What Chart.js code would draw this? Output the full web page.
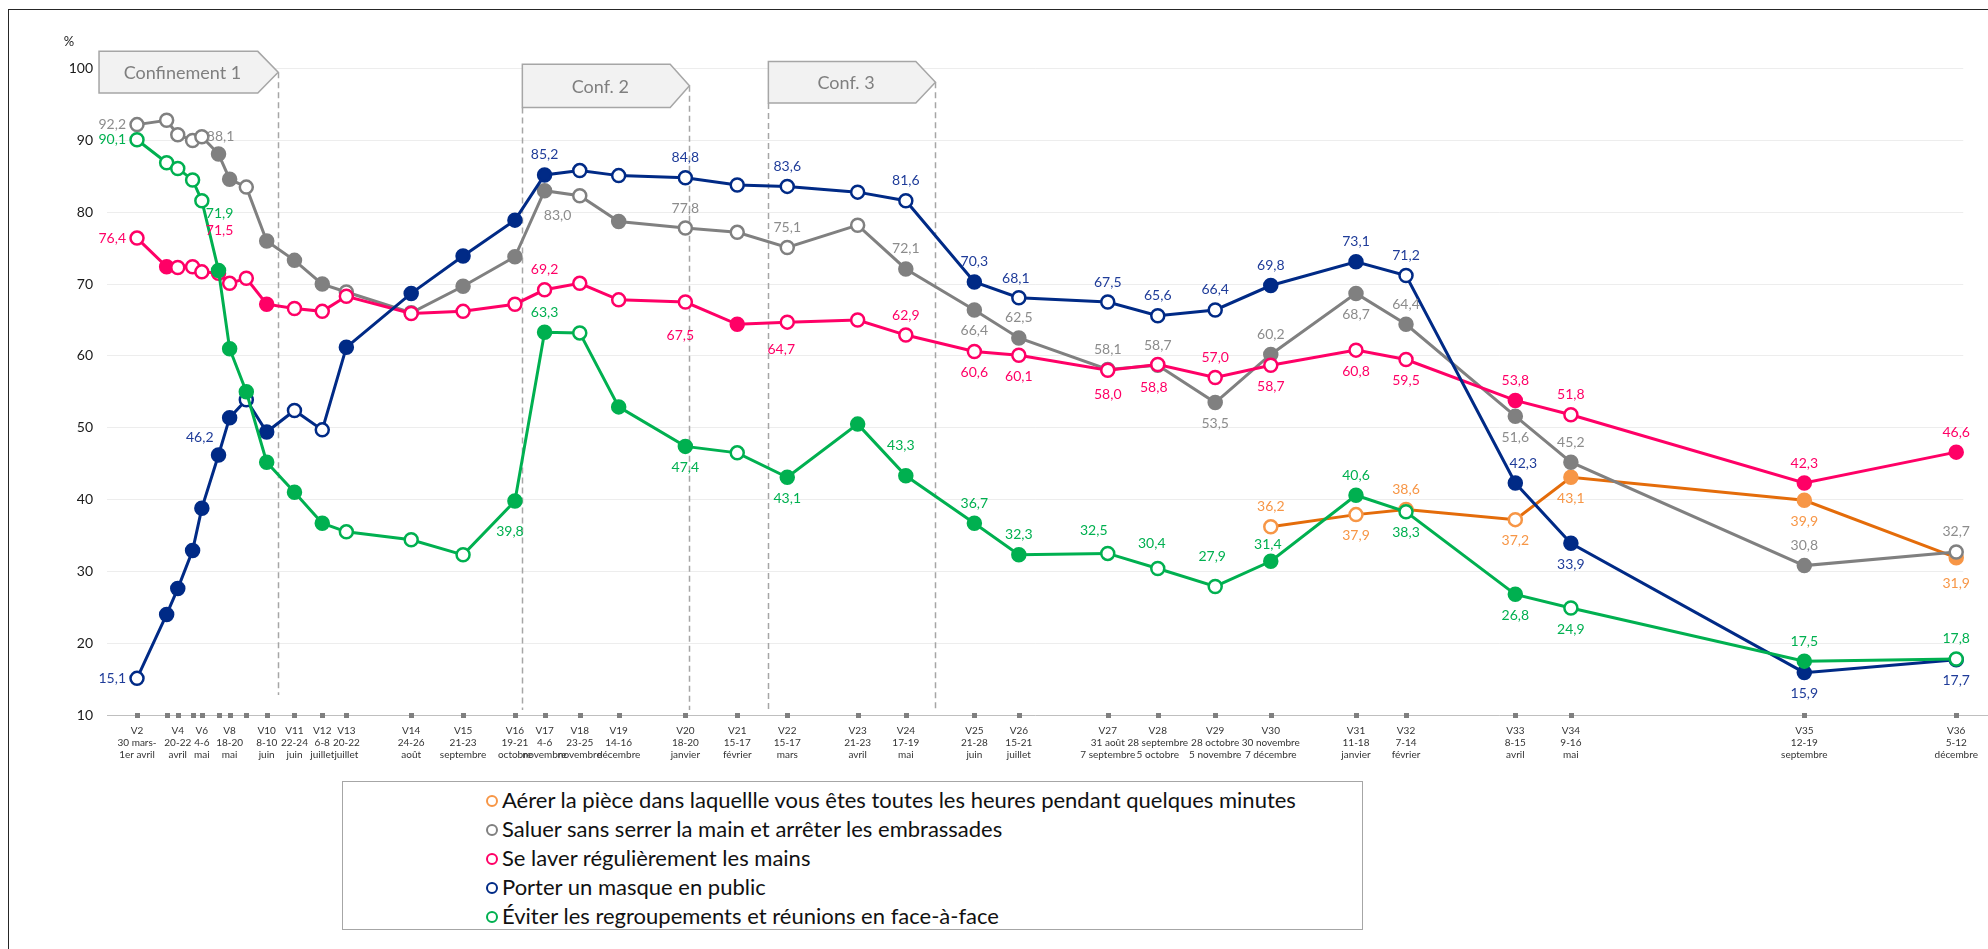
<!DOCTYPE html>
<html>
<head>
<meta charset="utf-8">
<script src="https://cdn.jsdelivr.net/npm/chart.js@4.4.1/dist/chart.umd.min.js"></script>
<style>
html,body{margin:0;padding:0;background:#fff;width:1988px;height:949px;overflow:hidden;}
#c{position:absolute;left:0;top:0;}
#frame{position:absolute;left:8px;top:9px;width:2100px;height:1100px;border:1.5px solid #262626;box-sizing:border-box;pointer-events:none;}
#legend{position:absolute;left:342px;top:781px;width:1021px;height:149px;border:1px solid #A6A6A6;box-sizing:border-box;background:#fff;font-family:Lato,'Open Sans',sans-serif;font-size:22px;color:#111;}
.row{position:absolute;left:143px;height:29px;line-height:29px;white-space:nowrap;}
.mk{display:inline-block;width:8px;height:8px;border:2.5px solid;border-radius:50%;background:#fff;vertical-align:middle;margin-right:4px;position:relative;top:-1px;}
</style>
</head>
<body>
<canvas id="c" width="1988" height="949"></canvas>
<div id="frame"></div>
<div id="legend"></div>
<script>
// ---- categories (survey waves) ----
const waves = ['V2','V3','V4','V5','V6','V7','V8','V9','V10','V11','V12','V13','V14','V15','V16','V17','V18','V19','V20','V21','V22','V23','V24','V25','V26','V27','V28','V29','V30','V31','V32','V33','V34','V35','V36'];
const waveDates = ['2020-03-31','2020-04-16','2020-04-22','2020-04-30','2020-05-05','2020-05-14','2020-05-20','2020-05-29','2020-06-09','2020-06-24','2020-07-09','2020-07-22','2020-08-26','2020-09-23','2020-10-21','2020-11-06','2020-11-25','2020-12-16','2021-01-21','2021-02-18','2021-03-17','2021-04-24','2021-05-20','2021-06-26','2021-07-20','2021-09-06','2021-10-03','2021-11-03','2021-12-03','2022-01-18','2022-02-14','2022-04-14','2022-05-14','2022-09-17','2022-12-08'];
// ---- tick labels ----
const tickLabels = [
 ['V2','30 mars-','1er avril'], '', ['V4','20-22','avril'], '', ['V6','4-6','mai'], '', ['V8','18-20','mai'], '',
 ['V10','8-10','juin'], ['V11','22-24','juin'], ['V12','6-8','juillet'], ['V13','20-22','juillet'],
 ['V14','24-26','août'], ['V15','21-23','septembre'], ['V16','19-21','octobre'], ['V17','4-6','novembre'],
 ['V18','23-25','novembre'], ['V19','14-16','décembre'], ['V20','18-20','janvier'], ['V21','15-17','février'],
 ['V22','15-17','mars'], ['V23','21-23','avril'], ['V24','17-19','mai'], ['V25','21-28','juin'], ['V26','15-21','juillet'],
 ['V27','31 août','7 septembre'], ['V28','28 septembre','5 octobre'], ['V29','28 octobre','5 novembre'], ['V30','30 novembre','7 décembre'],
 ['V31','11-18','janvier'], ['V32','7-14','février'], ['V33','8-15','avril'], ['V34','9-16','mai'], ['V35','12-19','septembre'], ['V36','5-12','décembre']
];
const yTicks = [10,20,30,40,50,60,70,80,90,100];

// ---- series values (%) ----
const aerer   = [null,null,null,null,null,null,null,null,null,null,null,null,null,null,null,null,null,null,null,null,null,null,null,null,null,null,null,null,36.2,37.9,38.6,37.2,43.1,39.9,31.9];
const saluer  = [92.2,92.8,90.8,90.0,90.5,88.1,84.6,83.5,76.0,73.3,70.0,68.9,66.0,69.7,73.8,83.0,82.3,78.7,77.8,77.2,75.1,78.2,72.1,66.4,62.5,58.1,58.7,53.5,60.2,68.7,64.4,51.6,45.2,30.8,32.7];
const laver   = [76.4,72.4,72.3,72.4,71.7,71.5,70.1,70.8,67.2,66.6,66.2,68.3,65.9,66.2,67.2,69.2,70.1,67.8,67.5,64.4,64.7,65.0,62.9,60.6,60.1,58.0,58.8,57.0,58.7,60.8,59.5,53.8,51.8,42.3,46.6];
const masque  = [15.1,24.0,27.6,32.9,38.8,46.2,51.4,53.9,49.4,52.4,49.7,61.2,68.7,73.9,78.9,85.2,85.8,85.1,84.8,83.8,83.6,82.8,81.6,70.3,68.1,67.5,65.6,66.4,69.8,73.1,71.2,42.3,33.9,15.9,17.7];
const eviter  = [90.1,86.9,86.1,84.5,81.6,71.9,61.0,55.0,45.2,41.0,36.7,35.5,34.4,32.3,39.8,63.3,63.2,52.9,47.4,46.5,43.1,50.5,43.3,36.7,32.3,32.5,30.4,27.9,31.4,40.6,38.3,26.8,24.9,17.5,17.8];
// significant change (filled marker) flags
const aererSig  = [0,0,0,0,0,0,0,0,0,0,0,0,0,0,0,0,0,0,0,0,0,0,0,0,0,0,0,0,0,0,0,0,1,1,1];
const saluerSig = [0,0,0,0,0,1,1,0,1,1,1,0,0,1,1,1,0,1,0,0,0,0,1,1,1,1,0,1,1,1,1,1,1,1,0];
const laverSig  = [0,1,0,0,0,0,0,0,1,0,0,0,0,0,0,0,0,0,0,1,0,0,0,0,0,0,0,0,0,0,0,1,0,1,1];
const masqueSig = [0,1,1,1,1,1,1,0,1,0,0,1,1,1,1,1,0,0,0,0,0,0,0,1,0,0,0,0,1,1,0,1,1,1,0];
const eviterSig = [0,0,0,0,0,1,1,1,1,1,1,0,0,0,1,1,0,1,1,0,1,1,1,1,1,0,0,0,1,1,0,1,0,1,0];

const seriesNames = [
 'Aérer la pièce dans laquellle vous êtes toutes les heures pendant quelques minutes',
 'Saluer sans serrer la main et arrêter les embrassades',
 'Se laver régulièrement les mains',
 'Porter un masque en public',
 'Éviter les regroupements et réunions en face-à-face'
];

// ---- label placement (style) ----
const lblAerer  = {V30:'a',V31:'b',V32:'a',V33:'b',V34:'b',V35:'b',V36:{dx:0,dy:26}};
const lblSaluer = {V2:'l',V7:{dx:2,dy:-18},V17:{dx:13,dy:25},V20:'a',V22:'a',V24:'a',V25:'b',V26:'a',V27:'a',V28:'a',V29:'b',V30:'a',V31:'b',V32:'a',V33:'b',V34:'a',V35:'a',V36:'a'};
const lblLaver  = {V2:'l',V7:{dx:1,dy:-43},V17:'a',V20:{dx:-5,dy:33},V22:{dx:-6,dy:27},V24:'a',V25:'b',V26:'b',V27:{dx:0,dy:24},V28:{dx:-4,dy:23},V29:'a',V30:'b',V31:'b',V32:'b',V33:'a',V34:'a',V35:'a',V36:'a'};
const lblMasque = {V2:'l',V7:{dx:-5,dy:-18,align:'right'},V17:'a',V20:'a',V22:'a',V24:'a',V25:'a',V26:{dx:-3,dy:-19},V27:'a',V28:'a',V29:'a',V30:'a',V31:'a',V32:'a',V33:{dx:8,dy:-20},V34:'b',V35:'b',V36:'b'};
const lblEviter = {V2:'l',V7:{dx:1,dy:-57},V16:{dx:-5,dy:31},V17:'a',V20:'b',V22:'b',V24:{dx:-5,dy:-30},V25:'a',V26:'a',V27:{dx:-14,dy:-23},V28:{dx:-6,dy:-25},V29:{dx:-3,dy:-30},V30:{dx:-3,dy:-17},V31:'a',V32:'b',V33:'b',V34:'b',V35:'a',V36:'a'};

const day0 = Date.parse(waveDates[0]);
const waveDays = waveDates.map(d => Math.round((Date.parse(d) - day0) / 86400000));

function pts(vals){ return vals.map((v,i)=>({x:waveDays[i], y:v})); }
function bg(sig, col){ return sig.map(s => s ? col : '#FFFFFF'); }

const styles = [
 {vals:aerer,  sig:aererSig,  line:'#E46C0A', mark:'#F79646', text:'#F79646', lbl:lblAerer,  order:5},
 {vals:saluer, sig:saluerSig, line:'#808080', mark:'#808080', text:'#8C8C8C', lbl:lblSaluer, order:4},
 {vals:laver,  sig:laverSig,  line:'#FF0066', mark:'#FF0066', text:'#FF0066', lbl:lblLaver,  order:3},
 {vals:masque, sig:masqueSig, line:'#002A86', mark:'#002A86', text:'#1F3C99', lbl:lblMasque, order:2},
 {vals:eviter, sig:eviterSig, line:'#00B050', mark:'#00B050', text:'#00B050', lbl:lblEviter, order:1}
];

const datasets = styles.map((s,k)=>({
  label: seriesNames[k],
  data: pts(s.vals),
  borderColor: s.line,
  borderWidth: 3,
  pointRadius: 6.5,
  pointBorderWidth: 2.5,
  pointBorderColor: s.mark,
  pointBackgroundColor: bg(s.sig, s.mark),
  pointHoverRadius: 6.5,
  tension: 0,
  spanGaps: false,
  clip: false,
  order: s.order,
  lblMap: s.lbl,
  lblColor: s.text
}));

// confinement annotations (x in days since first wave, y in %)
const confBoxes = [
  {text:'Confinement 1', x0:-20.5, x1:65.2, tip:76.2, yTop:102.4, yBot:96.6},
  {text:'Conf. 2', x0:208.0, x1:287.8, tip:298.2, yTop:100.6, yBot:94.6},
  {text:'Conf. 3', x0:340.8, x1:420.4, tip:431.0, yTop:101.0, yBot:95.2}
];
const dashLines = [
  {x:76.2, y0:99.5, y1:12.8},
  {x:208.0, y0:94.6, y1:10.7},
  {x:298.2, y0:97.6, y1:10.7},
  {x:340.8, y0:95.2, y1:10.5},
  {x:431.0, y0:98.1, y1:10.5}
];

const FONT = 'Lato, "Open Sans", sans-serif';

const annoPlugin = {
  id:'anno',
  beforeDatasetsDraw(chart){
    const {ctx, scales:{x,y}, chartArea} = chart;
    ctx.save();
    // extend the category axis line to the right edge
    ctx.strokeStyle = '#BFBFBF';
    ctx.lineWidth = 1;
    const ay = Math.round(y.getPixelForValue(10)) + 0.5;
    ctx.beginPath(); ctx.moveTo(chartArea.right, ay); ctx.lineTo(chart.width, ay); ctx.stroke();
    ctx.strokeStyle = '#A6A6A6';
    ctx.lineWidth = 1.5;
    ctx.setLineDash([6,4]);
    dashLines.forEach(d=>{
      const px = Math.round(x.getPixelForValue(d.x)) + 0.5;
      ctx.beginPath();
      ctx.moveTo(px, y.getPixelForValue(d.y0));
      ctx.lineTo(px, y.getPixelForValue(d.y1));
      ctx.stroke();
    });
    ctx.restore();
  },
  afterDraw(chart){
    const {ctx, scales:{x,y}, chartArea} = chart;
    ctx.save();
    // axis category markers
    ctx.fillStyle = '#7F7F7F';
    const by = y.getPixelForValue(10);
    waveDays.forEach(d=>{
      const px = x.getPixelForValue(d);
      ctx.fillRect(Math.round(px)-2, Math.round(by)-2, 5, 5);
    });
    // confinement boxes
    confBoxes.forEach(b=>{
      const l = x.getPixelForValue(b.x0), r = x.getPixelForValue(b.x1), t = x.getPixelForValue(b.tip);
      const top = y.getPixelForValue(b.yTop), bot = y.getPixelForValue(b.yBot), mid = (top+bot)/2;
      ctx.beginPath();
      ctx.moveTo(l, top); ctx.lineTo(r, top); ctx.lineTo(t, mid); ctx.lineTo(r, bot); ctx.lineTo(l, bot); ctx.closePath();
      ctx.fillStyle = '#F2F2F2'; ctx.fill();
      ctx.strokeStyle = '#A6A6A6'; ctx.lineWidth = 1.5; ctx.stroke();
      ctx.fillStyle = '#7F7F7F';
      ctx.font = '18px ' + FONT;
      ctx.textAlign = 'center'; ctx.textBaseline = 'middle';
      ctx.fillText(b.text, (l+r)/2 + 4, mid + 1);
    });
    // unit label
    ctx.fillStyle = '#1a1a1a';
    ctx.font = '13px ' + FONT;
    ctx.textAlign = 'center'; ctx.textBaseline = 'middle';
    ctx.fillText('%', chartArea.left - 38, y.getPixelForValue(100) - 27);
    ctx.restore();
  }
};

const labelPlugin = {
  id:'valueLabels',
  afterDatasetsDraw(chart){
    const ctx = chart.ctx;
    ctx.save();
    ctx.font = '14px ' + FONT;
    ctx.textBaseline = 'middle';
    chart.data.datasets.forEach((ds, di)=>{
      const meta = chart.getDatasetMeta(di);
      waves.forEach((w,i)=>{
        const p = ds.lblMap[w];
        if (!p) return;
        const v = ds.data[i].y;
        if (v == null) return;
        const el = meta.data[i];
        let dx = 0, dy = 0, align = 'center';
        if (typeof p === 'object'){ dx = p.dx; dy = p.dy; align = p.align || 'center'; }
        else if (p === 'a') dy = -20;
        else if (p === 'b') dy = 21;
        else if (p === 'l'){ dx = -11; align = 'right'; }
        else if (p === 'r'){ dx = 11; align = 'left'; }
        ctx.fillStyle = ds.lblColor;
        ctx.textAlign = align;
        ctx.fillText(v.toFixed(1).replace('.', ','), el.x + dx, el.y + dy);
      });
    });
    ctx.restore();
  }
};

new Chart(document.getElementById('c'), {
  type:'line',
  data:{ datasets },
  options:{
    responsive:false,
    animation:false,
    events:[],
    layout:{ padding:{ top:68.6, right:22, bottom:0, left:0 } },
    plugins:{ legend:{display:false}, tooltip:{enabled:false} },
    scales:{
      x:{
        type:'linear', min:-16.2, max:985.8,
        afterBuildTicks: s => { s.ticks = waveDays.map(v => ({value:v})); },
        afterFit: s => { s.height = 234; },
        grid:{ display:false, drawTicks:false },
        border:{ display:true, color:'#BFBFBF', width:1 },
        ticks:{ autoSkip:false, maxRotation:0, minRotation:0, padding:10, color:'#333333',
          font:{ family:FONT, size:10, lineHeight:1.2 },
          callback:(v,i) => tickLabels[i] }
      },
      y:{
        min:10, max:100,
        afterBuildTicks: s => { s.ticks = yTicks.map(v => ({value:v})); },
        afterFit: s => { s.width = 107; },
        grid:{ color:'#EDEDED', lineWidth:1, drawTicks:false },
        border:{ display:false },
        ticks:{ padding:14, color:'#1a1a1a', font:{ family:FONT, size:14 } }
      }
    }
  },
  plugins:[annoPlugin, labelPlugin]
});

// legend (HTML, real text)
const lg = document.getElementById('legend');
styles.forEach((s,k)=>{
  const row = document.createElement('div');
  row.className = 'row';
  row.style.top = (3 + k*29) + 'px';
  const mk = document.createElement('span');
  mk.className = 'mk';
  mk.style.borderColor = s.mark;
  row.appendChild(mk);
  row.appendChild(document.createTextNode(seriesNames[k]));
  lg.appendChild(row);
});
</script>
</body>
</html>
